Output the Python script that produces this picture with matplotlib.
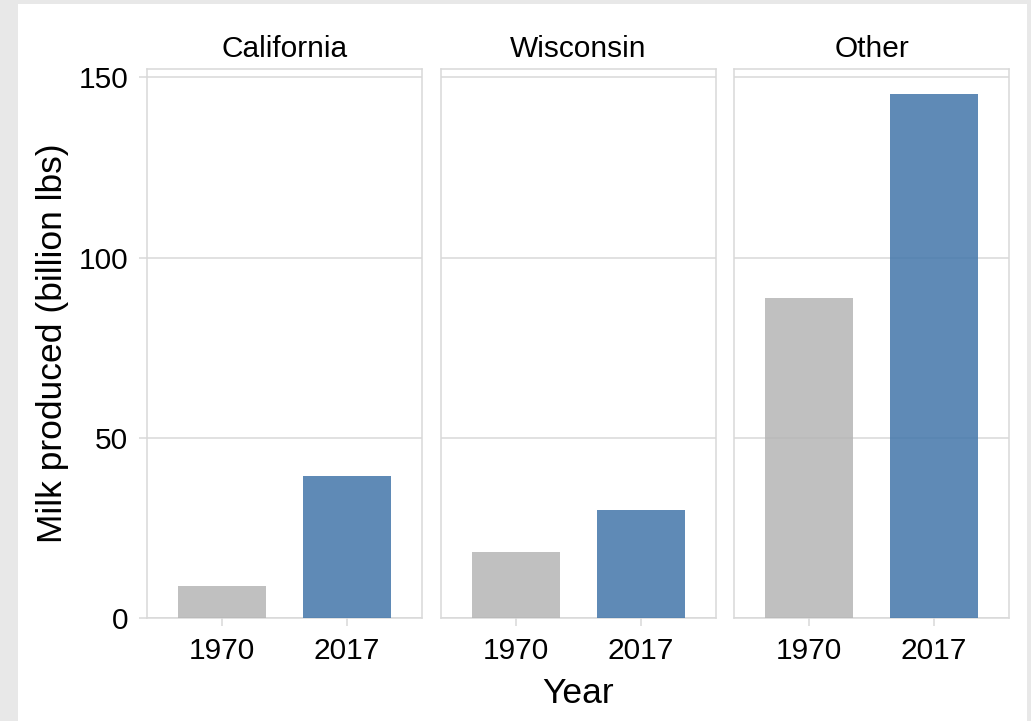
import numpy as np
import matplotlib.pyplot as plt
from matplotlib.patches import Rectangle

# milk production by region, 1970 vs 2017 (billion lbs)
regions = ['California', 'Wisconsin', 'Other']
years = ['1970', '2017']
milk_1970 = [9.0, 18.2, 88.9]
milk_2017 = [39.5, 30.0, 145.3]
yticks = [0, 50, 100, 150]

bar_cols = ['#b5b5b5', '#4376aa']
line_col = '#d9d9d9'

plt.rcParams['font.family'] = ['Liberation Sans', 'DejaVu Sans']

fig = plt.figure(figsize=(10.31, 7.21), dpi=100, facecolor='#e8e8e8')
# white plotting area inside the grey border (behind the axes)
bg = Rectangle((18/1031, 0), 1009/1031, 717/721, transform=fig.transFigure,
               facecolor='white', edgecolor='none', zorder=-10)
fig.add_artist(bg)

lefts = [147, 441, 734]
axes = []
for i, reg in enumerate(regions):
    ax = fig.add_axes([lefts[i]/1031, 103/721, 275/1031, 549/721])
    ax.set_facecolor('white')
    x = np.arange(len(years))
    vals = [milk_1970[i], milk_2017[i]]
    ax.bar(x, vals, width=0.7, color=bar_cols, alpha=0.85, zorder=3)
    ax.set_xlim(-0.6, 1.6)
    ax.set_ylim(0, 152.3)
    ax.set_yticks(yticks)
    ax.set_xticks(x)
    ax.set_xticklabels(years)
    ax.grid(axis='y', color=line_col, lw=1.1, zorder=1)
    for s in ax.spines.values():
        s.set_color(line_col)
        s.set_linewidth(1.1)
    ax.tick_params(axis='both', colors=line_col, labelcolor='black',
                   labelsize=21.5, length=5.5, width=1.1)
    ax.tick_params(axis='x', pad=8)
    ax.tick_params(axis='y', pad=8)
    if i > 0:
        ax.tick_params(axis='y', left=False, labelleft=False)
    ax.set_title(reg, fontsize=21.5, pad=8.5)
    axes.append(ax)

axes[0].set_ylabel('Milk produced (billion lbs)', fontsize=25.5, labelpad=6.5)
axes[1].set_xlabel('Year', fontsize=25.5, labelpad=8.5)

plt.savefig('out.png', dpi=100, facecolor=fig.get_facecolor())
